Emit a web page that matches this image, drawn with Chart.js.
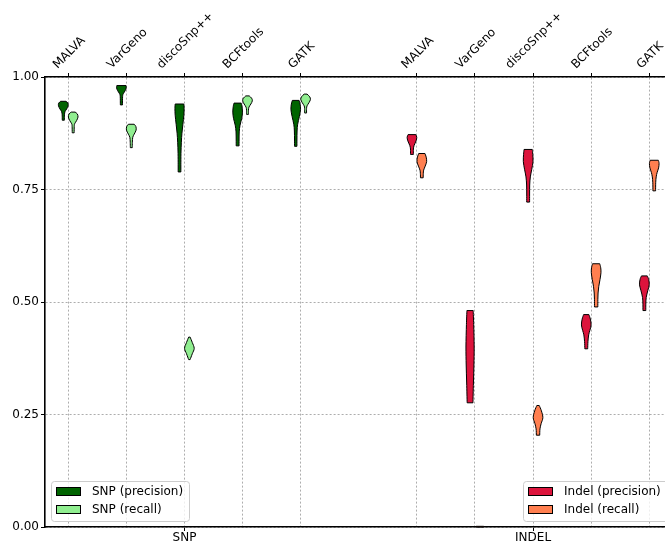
<!DOCTYPE html>
<html>
<head>
<meta charset="utf-8">
<script src="https://cdn.jsdelivr.net/npm/chart.js@4.4.1/dist/chart.umd.min.js"></script>
<style>
  html, body { margin: 0; padding: 0; background: #fff; overflow: hidden; }
  #wrap { width: 665px; height: 544px; }
</style>
</head>
<body>
<div id="wrap"><canvas id="violins" width="665" height="544"></canvas></div>
<script>
// tools (top axis) and the two groups (bottom axis)
const toolLabels = ['MALVA', 'VarGeno', 'discoSnp++', 'BCFtools', 'GATK'];
const snpPos = [0, 1, 2, 3, 4];
const indelPos = [6, 7, 8, 9, 10];
const groupLabels = ['SNP', 'INDEL'];
const groupPos = [2, 8];
const yTicks = [0, 0.25, 0.5, 0.75, 1];

// violin profiles: [value, relative half width] from top to bottom
const snpPrecision = [
  [[0.946, 0.55], [0.942, 0.95], [0.936, 1.0], [0.929, 0.7], [0.923, 0.35], [0.916, 0.24], [0.904, 0.22]],
  [[0.981, 0.95], [0.976, 1.0], [0.970, 0.8], [0.963, 0.4], [0.957, 0.25], [0.938, 0.22]],
  [[0.940, 0.9], [0.930, 0.95], [0.915, 0.9], [0.895, 0.7], [0.875, 0.5], [0.855, 0.38], [0.830, 0.3], [0.805, 0.28], [0.789, 0.28]],
  [[0.942, 0.75], [0.935, 0.9], [0.922, 1.0], [0.908, 0.85], [0.893, 0.5], [0.878, 0.33], [0.860, 0.3], [0.847, 0.3]],
  [[0.948, 0.7], [0.940, 0.9], [0.928, 1.0], [0.912, 0.75], [0.895, 0.4], [0.880, 0.28], [0.860, 0.25], [0.846, 0.25]]
];
const snpRecall = [
  [[0.922, 0.4], [0.918, 0.85], [0.911, 1.0], [0.903, 0.7], [0.896, 0.3], [0.890, 0.22], [0.876, 0.2]],
  [[0.895, 0.6], [0.890, 0.95], [0.882, 1.0], [0.873, 0.6], [0.866, 0.3], [0.855, 0.22], [0.843, 0.2]],
  [[0.422, 0.15], [0.410, 0.6], [0.397, 1.0], [0.385, 0.6], [0.372, 0.15]],
  [[0.958, 0.35], [0.953, 0.85], [0.947, 1.0], [0.940, 0.7], [0.933, 0.3], [0.926, 0.2], [0.917, 0.2]],
  [[0.962, 0.3], [0.956, 0.85], [0.950, 1.0], [0.943, 0.7], [0.936, 0.3], [0.930, 0.2], [0.920, 0.2]]
];
const indelPrecision = [
  [[0.872, 0.8], [0.866, 1.0], [0.858, 0.85], [0.848, 0.45], [0.840, 0.3], [0.828, 0.3]],
  [[0.481, 0.65], [0.450, 0.75], [0.400, 0.85], [0.360, 0.8], [0.320, 0.7], [0.276, 0.6]],
  [[0.839, 0.85], [0.828, 0.95], [0.812, 1.0], [0.795, 0.75], [0.778, 0.45], [0.760, 0.32], [0.740, 0.3], [0.722, 0.3]],
  [[0.472, 0.55], [0.462, 0.85], [0.449, 1.0], [0.437, 0.75], [0.427, 0.5], [0.412, 0.35], [0.396, 0.3]],
  [[0.558, 0.6], [0.550, 0.9], [0.538, 1.0], [0.525, 0.7], [0.510, 0.38], [0.495, 0.3], [0.481, 0.3]]
];
const indelRecall = [
  [[0.830, 0.65], [0.822, 0.9], [0.812, 1.0], [0.802, 0.7], [0.793, 0.38], [0.785, 0.3], [0.776, 0.28]],
  [[0.0015, 0.8], [0.0, 0.8]],
  [[0.270, 0.25], [0.258, 0.7], [0.243, 1.0], [0.230, 0.65], [0.218, 0.4], [0.204, 0.35]],
  [[0.585, 0.75], [0.576, 0.95], [0.565, 1.0], [0.550, 0.8], [0.535, 0.55], [0.520, 0.4], [0.505, 0.35], [0.489, 0.35]],
  [[0.815, 0.85], [0.808, 1.0], [0.798, 0.9], [0.788, 0.6], [0.778, 0.4], [0.765, 0.3], [0.747, 0.28]]
];

const FONT = "'DejaVu Sans', sans-serif";
const halfWidth = 0.083;   // x units
const offset = 0.085;

function makeSet(label, color, positions, profiles, shift, group) {
  return {
    label: label,
    backgroundColor: color,
    borderColor: '#000',
    group: group,
    pointRadius: 0,
    showLine: false,
    data: positions.map((p, i) => ({ x: p + shift, y: profiles[i][0][0], profile: profiles[i] }))
  };
}

// catmull-rom through the side points
function side(ctx, pts, move) {
  if (move) ctx.moveTo(pts[0].x, pts[0].y); else ctx.lineTo(pts[0].x, pts[0].y);
  for (let i = 0; i < pts.length - 1; i++) {
    const p0 = pts[i - 1] || pts[i], p1 = pts[i], p2 = pts[i + 1], p3 = pts[i + 2] || pts[i + 1];
    ctx.bezierCurveTo(p1.x + (p2.x - p0.x) / 6, p1.y + (p2.y - p0.y) / 6,
                      p2.x - (p3.x - p1.x) / 6, p2.y - (p3.y - p1.y) / 6, p2.x, p2.y);
  }
}

const violinPlugin = {
  id: 'violinPlugin',
  afterDatasetsDraw(chart) {
    const ctx = chart.ctx, xs = chart.scales.x, ys = chart.scales.y;
    chart.data.datasets.forEach(ds => {
      ds.data.forEach(d => {
        const right = d.profile.map(([v, w]) => ({ x: xs.getPixelForValue(d.x + w * halfWidth), y: ys.getPixelForValue(v) }));
        const left = d.profile.map(([v, w]) => ({ x: xs.getPixelForValue(d.x - w * halfWidth), y: ys.getPixelForValue(v) })).reverse();
        ctx.save();
        ctx.beginPath();
        side(ctx, right, true);
        side(ctx, left, false);
        ctx.closePath();
        ctx.fillStyle = ds.backgroundColor;
        ctx.fill();
        ctx.lineWidth = 1;
        ctx.strokeStyle = ds.borderColor;
        ctx.lineJoin = 'round';
        ctx.stroke();
        ctx.restore();
      });
    });
  }
};

// rotated tool names above the top axis
const topLabelPlugin = {
  id: 'topLabelPlugin',
  afterDraw(chart) {
    const ctx = chart.ctx, xs = chart.scales.x2, top = chart.chartArea.top;
    ctx.save();
    ctx.font = '12px ' + FONT;
    ctx.fillStyle = '#000';
    ctx.textAlign = 'center';
    ctx.textBaseline = 'middle';
    [snpPos, indelPos].forEach(pos => {
      pos.forEach((p, i) => {
        const w = ctx.measureText(toolLabels[i]).width;
        const cx = xs.getPixelForValue(p) + 1;
        const cy = top - 6 - (w + 12) / (2 * Math.SQRT2);
        ctx.save();
        ctx.translate(cx, cy);
        ctx.rotate(-Math.PI / 4);
        ctx.fillText(toolLabels[i], 0, 0);
        ctx.restore();
      });
    });
    ctx.restore();
  }
};

// two legends: SNP bottom left, Indel bottom right
const legendPlugin = {
  id: 'legendPlugin',
  afterDraw(chart) {
    const ctx = chart.ctx, area = chart.chartArea;
    const boxes = [
      { group: 'snp', x: area.left + 6, w: 138 },
      { group: 'indel', x: area.right - 142, w: 150 }
    ];
    ctx.save();
    ctx.font = '12px ' + FONT;
    boxes.forEach(b => {
      const sets = chart.data.datasets.filter(ds => ds.group === b.group);
      const y0 = area.bottom - 46;
      ctx.beginPath();
      ctx.roundRect(b.x + 0.5, y0 + 0.5, b.w, 40, 3);
      ctx.fillStyle = 'rgba(255,255,255,0.8)';
      ctx.fill();
      ctx.strokeStyle = '#cccccc';
      ctx.lineWidth = 1;
      ctx.stroke();
      sets.forEach((ds, i) => {
        const ry = y0 + 10 + i * 18;
        ctx.fillStyle = ds.backgroundColor;
        ctx.fillRect(b.x + 5, ry - 4, 25, 9);
        ctx.strokeStyle = '#000';
        ctx.strokeRect(b.x + 5.5, ry - 3.5, 24, 8);
        ctx.fillStyle = '#000';
        ctx.textAlign = 'left';
        ctx.textBaseline = 'middle';
        ctx.fillText(ds.label, b.x + 41, ry + 1);
      });
    });
    ctx.restore();
  }
};

const gridStyle = { color: '#999999', lineWidth: 0.8, tickColor: '#000', tickLength: 4, tickWidth: 1 };

new Chart(document.getElementById('violins'), {
  type: 'scatter',
  data: {
    datasets: [
      makeSet('SNP (precision)', '#006400', snpPos, snpPrecision, -offset, 'snp'),
      makeSet('SNP (recall)', '#90ee90', snpPos, snpRecall, offset, 'snp'),
      makeSet('Indel (precision)', '#dc143c', indelPos, indelPrecision, -offset, 'indel'),
      makeSet('Indel (recall)', '#ff7f50', indelPos, indelRecall, offset, 'indel')
    ]
  },
  options: {
    responsive: false,
    animation: false,
    events: [],
    layout: { padding: 0 },
    plugins: { legend: { display: false }, tooltip: { enabled: false } },
    scales: {
      x: {
        type: 'linear',
        position: 'bottom',
        min: -0.4,
        max: 10.27,
        afterBuildTicks: s => { s.ticks = groupPos.map(v => ({ value: v })); },
        afterFit: s => { s.height = 17; },
        ticks: {
          autoSkip: false,
          maxRotation: 0,
          padding: 0,
          color: '#000',
          font: { family: FONT, size: 12 },
          callback: v => groupLabels[groupPos.indexOf(v)]
        },
        grid: { drawOnChartArea: false, tickColor: '#000', tickLength: 4 },
        border: { color: '#000', width: 1.6 }
      },
      x2: {
        type: 'linear',
        position: 'top',
        min: -0.4,
        max: 10.27,
        afterBuildTicks: s => { s.ticks = snpPos.concat(indelPos).map(v => ({ value: v })); },
        afterFit: s => { s.height = 77; },
        ticks: { display: false },
        grid: gridStyle,
        border: { color: '#000', width: 1.6, dash: [2, 2] }
      },
      y: {
        min: 0,
        max: 1,
        afterBuildTicks: s => { s.ticks = yTicks.map(v => ({ value: v })); },
        afterFit: s => { s.width = 45; },
        ticks: {
          padding: 2,
          color: '#000',
          font: { family: FONT, size: 12 },
          callback: v => v.toFixed(2)
        },
        grid: gridStyle,
        border: { color: '#000', width: 1.6, dash: [2, 2] }
      }
    }
  },
  plugins: [violinPlugin, topLabelPlugin, legendPlugin]
});
</script>
</body>
</html>
